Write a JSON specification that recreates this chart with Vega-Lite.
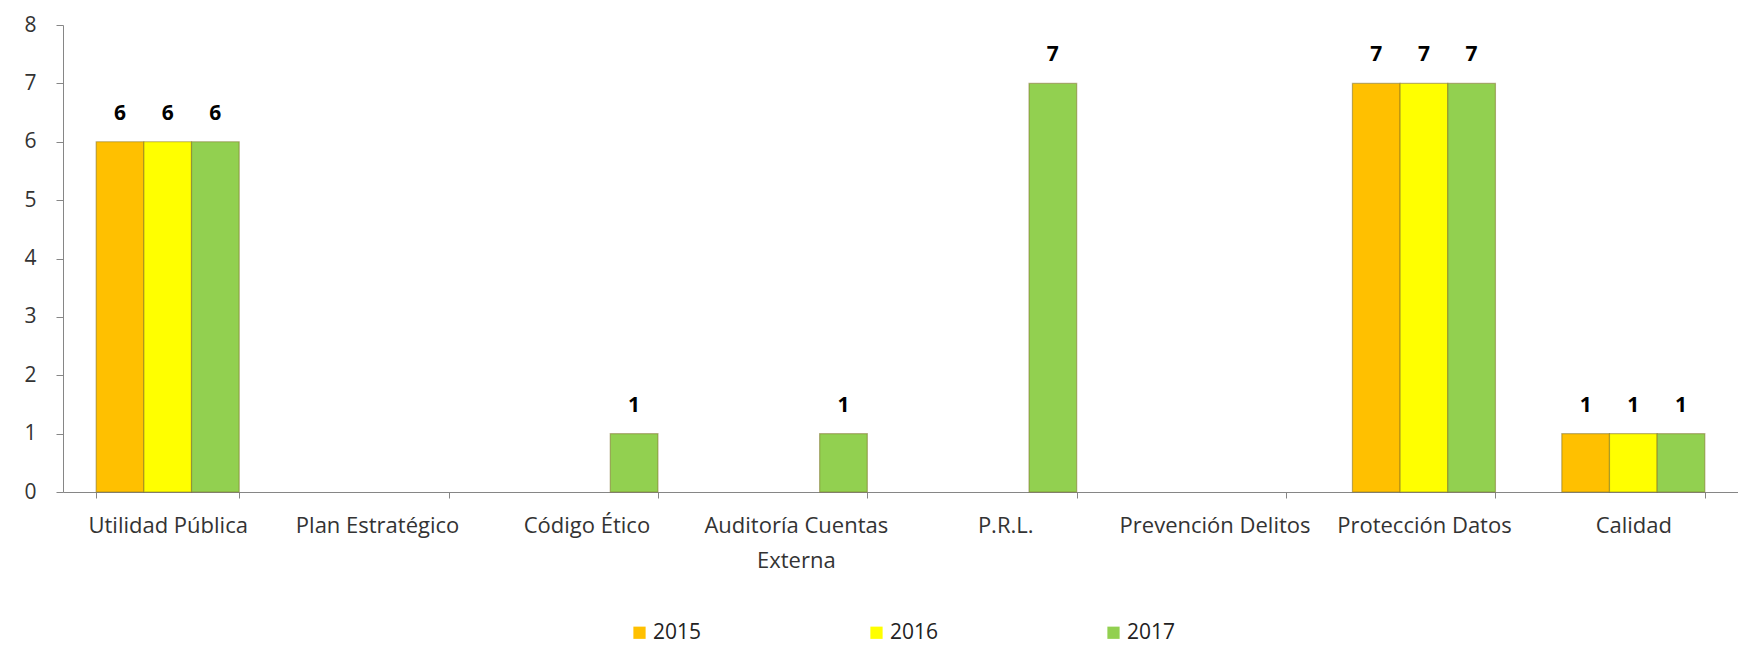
{
  "$schema": "https://vega.github.io/schema/vega-lite/v6.json",
  "width": 1675,
  "height": 467,
  "autosize": {"type": "none"},
  "padding": {"left": 63, "top": 25, "right": 0, "bottom": 154},
  "background": "white",
  "config": {
    "view": {"stroke": null},
    "font": "Open Sans",
    "axis": {"grid": false, "domainColor": "#868686", "tickColor": "#868686", "labelColor": "#333333", "labelFont": "Open Sans", "titleFont": "Open Sans"}
  },
  "data": {
    "values": [
      {"categoria": "Utilidad Pública", "año": "2015", "valor": 6},
      {"categoria": "Utilidad Pública", "año": "2016", "valor": 6},
      {"categoria": "Utilidad Pública", "año": "2017", "valor": 6},
      {"categoria": "Código Ético", "año": "2017", "valor": 1},
      {"categoria": "Auditoría Cuentas Externa", "año": "2017", "valor": 1},
      {"categoria": "P.R.L.", "año": "2017", "valor": 7},
      {"categoria": "Protección Datos", "año": "2015", "valor": 7},
      {"categoria": "Protección Datos", "año": "2016", "valor": 7},
      {"categoria": "Protección Datos", "año": "2017", "valor": 7},
      {"categoria": "Calidad", "año": "2015", "valor": 1},
      {"categoria": "Calidad", "año": "2016", "valor": 1},
      {"categoria": "Calidad", "año": "2017", "valor": 1}
    ]
  },
  "encoding": {
    "x": {
      "field": "categoria",
      "type": "nominal",
      "sort": null,
      "scale": {
        "domain": ["Utilidad Pública", "Plan Estratégico", "Código Ético", "Auditoría Cuentas Externa", "P.R.L.", "Prevención Delitos", "Protección Datos", "Calidad"],
        "paddingInner": 0.317,
        "paddingOuter": 0.1585
      },
      "axis": {
        "title": null,
        "labelAngle": 0,
        "labelFontSize": 22,
        "labelPadding": 17,
        "tickSize": 6,
        "tickBand": "extent",
        "labelLineHeight": 35,
        "labelLimit": 0,
        "labelExpr": "datum.value == 'Auditoría Cuentas Externa' ? ['Auditoría Cuentas', 'Externa'] : datum.value"
      }
    },
    "xOffset": {
      "field": "año",
      "type": "nominal",
      "scale": {"domain": ["2015", "2016", "2017"], "paddingInner": 0, "paddingOuter": 0}
    },
    "y": {
      "field": "valor",
      "type": "quantitative",
      "scale": {"domain": [0, 8], "nice": false},
      "axis": {
        "title": null,
        "values": [0, 1, 2, 3, 4, 5, 6, 7, 8],
        "labelFontSize": 21,
        "labelPadding": 20,
        "tickSize": 7
      }
    }
  },
  "layer": [
    {
      "mark": {"type": "bar", "stroke": "#7a6a20", "strokeWidth": 1.2, "strokeOpacity": 0.5},
      "encoding": {
        "color": {
          "field": "año",
          "type": "nominal",
          "scale": {"domain": ["2015", "2016", "2017"], "range": ["#FFC000", "#FFFF00", "#92D050"]},
          "legend": {
            "title": null,
            "orient": "none",
            "direction": "horizontal",
            "legendX": 566,
            "legendY": 597,
            "symbolType": "square",
            "symbolSize": 150,
            "symbolStrokeWidth": 0,
            "labelFont": "Open Sans",
            "labelFontSize": 21,
            "labelColor": "#222222",
            "labelOffset": 3,
            "columnPadding": 164
          }
        }
      }
    },
    {
      "mark": {"type": "text", "baseline": "bottom", "dy": -18, "fontSize": 21, "fontWeight": "bold", "color": "#000000", "font": "Open Sans"},
      "encoding": {
        "text": {"field": "valor", "type": "quantitative"}
      }
    }
  ]
}
